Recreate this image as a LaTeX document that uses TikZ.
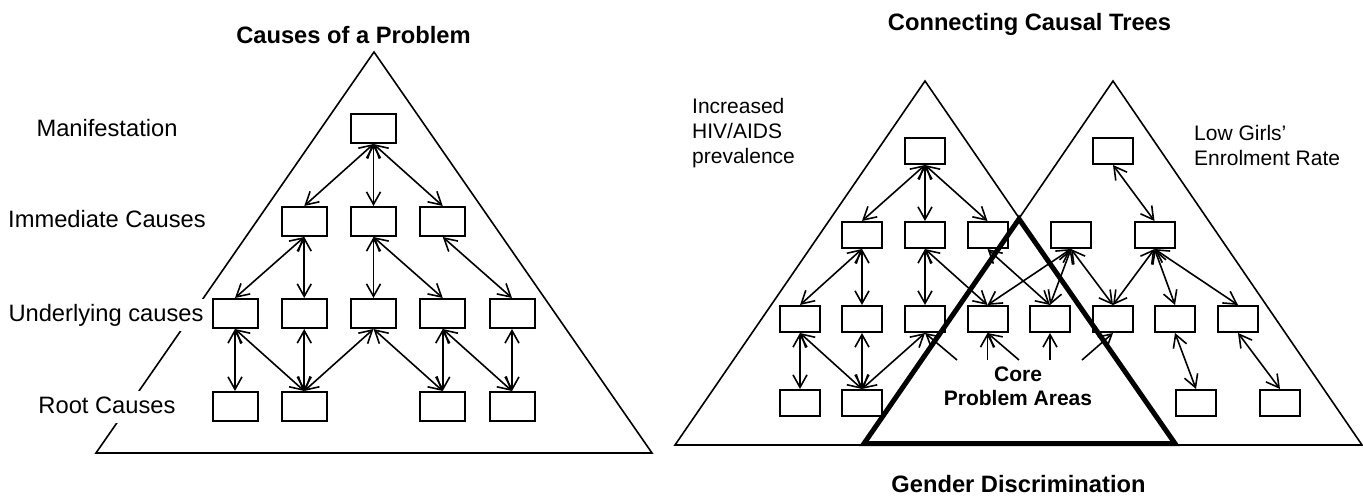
\documentclass[tikz,border=0pt]{standalone}
\usepackage{fontspec}
\setmainfont{Liberation Sans}
\usetikzlibrary{arrows.meta}
\begin{document}
\begin{tikzpicture}[x=1pt,y=-1pt,
  bx/.style={draw, line width=2pt, minimum width=45pt, minimum height=29pt, inner sep=0pt},
  sbx/.style={draw, line width=2pt, minimum width=40pt, minimum height=26pt, inner sep=0pt},
  barb/.tip={Straight Barb[length=12.5pt,width=14pt]},
  lnk/.style={line width=1.6pt, barb-barb},
  upl/.style={line width=1.6pt, -barb},
  tri/.style={line width=1.6pt, line join=miter},
  ttl/.style={font=\fontsize{23.7}{28}\selectfont\bfseries, anchor=base, inner sep=0pt},
  lab/.style={font=\fontsize{23.7}{28}\selectfont, anchor=base, fill=white, inner xsep=3pt, inner ysep=5pt, text height=17.5pt, text depth=4.5pt},
  rlab/.style={font=\fontsize{21}{25}\selectfont, align=left, anchor=north west, inner sep=0pt},
  core/.style={font=\fontsize{21}{24}\selectfont\bfseries, align=center, anchor=north, inner sep=0pt}
]
\useasboundingbox (0,0) rectangle (1363,497);

% ---------------- left diagram ----------------
\node[ttl] (t1) at (353.5,44) {Causes of a Problem};
\draw[tri] (374,52) -- (652,453) -- (96,453) -- cycle;

\node[lab] (lm) at (107,136.5) {Manifestation};
\node[lab] (li) at (107,228) {Immediate Causes};
\node[lab] (lu) at (106,321.7) {Underlying causes};
\node[lab] (lr) at (107,413) {Root Causes};

\node[bx] (M) at (373.5,128.5) {};
\node[bx] (I1) at (304.25,221.5) {};
\node[bx] (I2) at (373.5,221.5) {};
\node[bx] (I3) at (442.75,221.5) {};
\node[bx] (U1) at (235,313.5) {};
\node[bx] (U2) at (304.25,313.5) {};
\node[bx] (U3) at (373.5,313.5) {};
\node[bx] (U4) at (442.75,313.5) {};
\node[bx] (U5) at (512,313.5) {};
\node[bx] (R1) at (235,406.5) {};
\node[bx] (R2) at (304.25,406.5) {};
\node[bx] (R3) at (442.75,406.5) {};
\node[bx] (R4) at (512,406.5) {};

\draw[lnk] (M.south) -- (I1.north);
\draw[lnk] (M.south) -- (I2.north);
\draw[lnk] (M.south) -- (I3.north);
\draw[lnk] (I1.south) -- (U1.north);
\draw[lnk] (I1.south) -- (U2.north);
\draw[lnk] (I2.south) -- (U3.north);
\draw[lnk] (I2.south) -- (U4.north);
\draw[lnk] (I3.south) -- (U5.north);
\draw[lnk] (U1.south) -- (R1.north);
\draw[lnk] (U1.south) -- (R2.north);
\draw[lnk] (U2.south) -- (R2.north);
\draw[lnk] (U3.south) -- (R2.north);
\draw[lnk] (U3.south) -- (R3.north);
\draw[lnk] (U4.south) -- (R3.north);
\draw[lnk] (U4.south) -- (R4.north);
\draw[lnk] (U5.south) -- (R4.north);

% ---------------- right diagram ----------------
\node[ttl] (t2) at (1029.5,31) {Connecting Causal Trees};
\node[ttl] (t3) at (1018.5,492.5) {Gender Discrimination};

\draw[tri] (925,81) -- (1175,445) -- (675,445) -- cycle;
\draw[tri] (1113,81) -- (1362,445) -- (864,445) -- cycle;
\draw[line width=5pt, line join=miter] (1019,219) -- (1175,443.5) -- (864,443.5) -- cycle;

\node[rlab] (lh) at (692,97.7) {Increased\\HIV/AIDS\\prevalence};
\node[rlab] (lg) at (1194,124.7) {Low Girls’\\Enrolment Rate};
\node[core] (lc) at (1018,366.8) {Core\\Problem Areas};

\node[sbx] (T1) at (925,151) {};
\node[sbx] (G1) at (1113,151) {};
\node[sbx] (A2) at (862,235) {};
\node[sbx] (B2) at (925,235) {};
\node[sbx] (C2) at (987.5,235) {};
\node[sbx] (D2) at (1071,235) {};
\node[sbx] (E2) at (1154.5,235) {};
\node[sbx] (a3) at (800,319) {};
\node[sbx] (b3) at (862,319) {};
\node[sbx] (c3) at (925,319) {};
\node[sbx] (d3) at (987.5,319) {};
\node[sbx] (e3) at (1050,319) {};
\node[sbx] (f3) at (1113,319) {};
\node[sbx] (g3) at (1175,319) {};
\node[sbx] (h3) at (1238,319) {};
\node[sbx] (a4) at (800,403) {};
\node[sbx] (b4) at (862,403) {};
\node[sbx] (c4) at (1196,403) {};
\node[sbx] (d4) at (1280,403) {};

\coordinate (k1) at (957,360);
\coordinate (k2) at (987.5,360);
\coordinate (k3) at (1019,360);
\coordinate (k4) at (1050,360);
\coordinate (k5) at (1082,360);

\draw[lnk] (T1.south) -- (A2.north);
\draw[lnk] (T1.south) -- (B2.north);
\draw[lnk] (T1.south) -- (C2.north);
\draw[lnk] (A2.south) -- (a3.north);
\draw[lnk] (A2.south) -- (b3.north);
\draw[lnk] (B2.south) -- (c3.north);
\draw[lnk] (B2.south) -- (d3.north);
\draw[lnk] (C2.south) -- (e3.north);
\draw[lnk] (a3.south) -- (a4.north);
\draw[lnk] (a3.south) -- (b4.north);
\draw[lnk] (b3.south) -- (b4.north);
\draw[lnk] (c3.south) -- (b4.north);

\draw[lnk] (G1.south) -- (E2.north);
\draw[lnk] (D2.south) -- (d3.north);
\draw[lnk] (D2.south) -- (e3.north);
\draw[lnk] (D2.south) -- (f3.north);
\draw[lnk] (E2.south) -- (f3.north);
\draw[lnk] (E2.south) -- (g3.north);
\draw[lnk] (E2.south) -- (h3.north);
\draw[lnk] (g3.south) -- (c4.north);
\draw[lnk] (h3.south) -- (d4.north);

\draw[upl] (k1) -- (c3.south);
\draw[upl] (k2) -- (d3.south);
\draw[upl] (k3) -- (d3.south);
\draw[upl] (k4) -- (e3.south);
\draw[upl] (k5) -- (f3.south);
\end{tikzpicture}
\end{document}
